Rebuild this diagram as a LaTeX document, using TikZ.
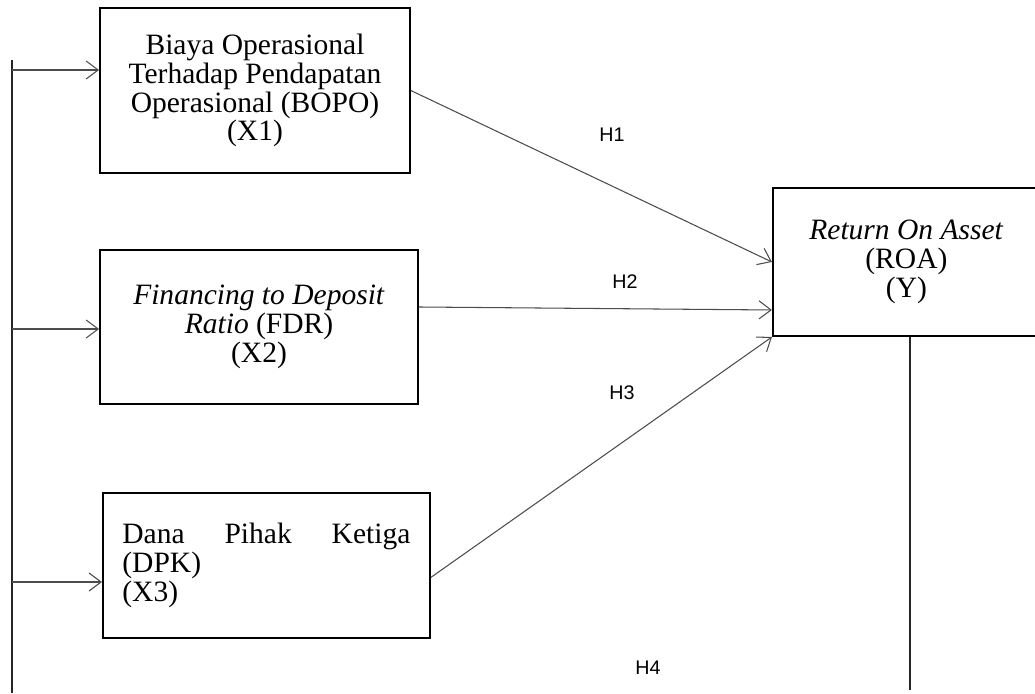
\documentclass[tikz,border=0pt]{standalone}
\usepackage{fontspec}
\setmainfont{Liberation Serif}
\newfontfamily\hypfont{Liberation Sans}
\usetikzlibrary{positioning,calc,arrows.meta}

\begin{document}
\begin{tikzpicture}[
    varbox/.style={draw, line width=1.4pt, align=center, inner sep=0pt,
        font=\fontsize{21}{20.5}\selectfont},
    link/.style={draw=black!70, line width=0.75pt, -{Straight Barb[length=3mm,width=4.5mm]}},
    rail/.style={draw=black!85, line width=1pt},
    hyp/.style={font=\hypfont\fontsize{14}{14}\selectfont}]
    \useasboundingbox (0,0) rectangle (25.875,17.325);

    % variables
    \node[varbox, minimum width=7.75cm, minimum height=4.125cm] (bopo) at (6.375,15.06)
        {Biaya Operasional\\Terhadap Pendapatan\\Operasional (BOPO)\\(X1)};
    \node[varbox, minimum width=7.95cm, minimum height=3.85cm] (fdr) at (6.475,9.15)
        {\textit{Financing to Deposit}\\\textit{Ratio} (FDR)\\(X2)};
    \node[varbox, minimum width=8.175cm, minimum height=3.625cm, text width=7.2cm, align=left] (dpk) at (6.66,3.19)
        {Dana\hfill Pihak\hfill Ketiga\\(DPK)\\(X3)\\[-0.3cm]};
    \node[varbox, minimum width=6.675cm, minimum height=3.7cm] (roa) at (22.66,10.775)
        {\textit{Return On Asset}\\(ROA)\\(Y)};

    % left rail
    \coordinate (railtop) at (0.3,15.825);
    \coordinate (railbot) at (0.3,0);
    \draw[rail] (railtop) -- (railbot);
    \coordinate (in1) at (0.3,15.575);
    \coordinate (in2) at (0.3,9.1);
    \coordinate (in3) at (0.3,2.775);
    \draw[link] (in1) -- (in1 -| bopo.west);
    \draw[link] (in2) -- (in2 -| fdr.west);
    \draw[link] (in3) -- (in3 -| dpk.west);

    % hypotheses
    \draw[link] (bopo.east) -- (roa.west);
    \draw[link] ($(fdr.east)+(0,0.5)$) -- ($(roa.south west)+(0,0.675)$);
    \draw[link] ($(dpk.east)+(0,-0.3)$) -- (roa.south west);
    \coordinate (h4end) at (22.75,0.075);
    \draw[rail] (roa.south -| h4end) -- (h4end);

    \node[hyp] (h1) at (15.3,13.95) {H1};
    \node[hyp] (h2) at (15.625,10.275) {H2};
    \node[hyp] (h3) at (15.55,7.5) {H3};
    \node[hyp] (h4) at (16.2,0.625) {H4};
\end{tikzpicture}
\end{document}
